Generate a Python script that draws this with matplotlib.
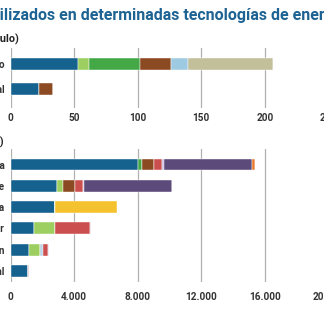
import matplotlib
matplotlib.use("Agg")
import matplotlib.pyplot as plt
import numpy as np

# vehiculos (kg por vehiculo)
car_labels = ["Coche eléctrico", "Coche convencional"]
car_minerals = ["Cobre", "Litio", "Níquel", "Manganeso", "Cobalto", "Grafito", "Tierras raras"]
car_values = {
    "Cobre":         [53.2, 22.3],
    "Litio":         [8.9, 0],
    "Níquel":        [39.9, 0],
    "Manganeso":     [24.5, 11.2],
    "Cobalto":       [13.3, 0],
    "Grafito":       [66.3, 0],
    "Tierras raras": [0.6, 0],
}

# generacion electrica (kg por MW)
power_labels = ["Eólica marina", "Eólica terrestre", "Solar fotovoltaica", "Nuclear", "Carbón", "Gas natural"]
power_minerals = ["Cobre", "Níquel (2)", "Níquel", "Manganeso", "Otros", "Cromo", "Molibdeno", "Zinc", "Tierras raras", "Silicio"]
power_values = {
    "Cobre":         [8000, 2900, 2822, 1473, 1150, 1100],
    "Níquel (2)":    [240, 0, 0, 0, 0, 0],
    "Níquel":        [0, 404, 0, 1297, 721, 16],
    "Manganeso":     [790, 780, 0, 60, 0, 0],
    "Otros":         [0, 0, 0, 0, 150, 0],
    "Cromo":         [525, 470, 0, 2190, 308, 48],
    "Molibdeno":     [109, 99, 0, 70, 66, 0],
    "Zinc":          [5500, 5500, 0, 0, 0, 0],
    "Tierras raras": [239, 14, 0, 0, 0, 0],
    "Silicio":       [0, 0, 3900, 0, 0, 0],
}

colors = {
    "Cobre": "#15628e",
    "Litio": "#9ccf5f",
    "Níquel (2)": "#45a847",
    "Níquel": "#9ccf5f",
    "Manganeso": "#8b4a22",
    "Cobalto": "#9ecae1",
    "Otros": "#b9d3e6",
    "Grafito": "#c2bf9b",
    "Tierras raras": "#e87b2b",
    "Cromo": "#cc4f4f",
    "Molibdeno": "#c9b9e2",
    "Zinc": "#5b4a7a",
    "Silicio": "#f5c22f",
}
car_colors = dict(colors, **{"Níquel": "#45a847"})

label_font = ["Roboto", "DejaVu Sans"]
title_blue = "#1d6393"
grid_gray = "#b0b0b0"
text_dark = "#333333"
W = 324.0
FS = 7.2

fig = plt.figure(figsize=(3.24, 3.24), dpi=100)


def stacked(ax, labels, minerals, values, cols, height):
    y = np.arange(len(labels))
    left = np.zeros(len(labels))
    for m in minerals:
        v = np.array(values[m], dtype=float)
        ax.barh(y, v, left=left, height=height, color=cols[m],
                edgecolor="white", linewidth=0.3, zorder=3)
        left += v
    ax.set_yticks(y)
    ax.set_yticklabels(labels, family=label_font, fontsize=FS, fontweight="bold", color=text_dark)
    for s in ax.spines.values():
        s.set_visible(False)
    ax.grid(axis="x", color=grid_gray, linewidth=0.9, zorder=0)
    ax.tick_params(axis="y", length=0, pad=4.3)


# panel superior
ax1 = fig.add_axes([10.5 / W, 1 - 108 / W, 318 / W, 60 / W])
stacked(ax1, car_labels, car_minerals, car_values, car_colors, 0.48)
ax1.set_xlim(0, 250)
ax1.set_ylim(1.76, -0.64)
ax1.set_xticks([0, 50, 100, 150, 200, 250])
ax1.set_xticklabels(["0", "50", "100", "150", "200", "250"], family=label_font, fontsize=FS,
                    fontweight="bold", color=text_dark)
ax1.tick_params(axis="x", length=0, pad=3.8)

# panel inferior
ax2 = fig.add_axes([10.5 / W, 1 - 282 / W, 318 / W, 133 / W])
stacked(ax2, power_labels, power_minerals, power_values, colors, 0.56)
ax2.set_xlim(0, 20000)
ax2.set_ylim(5.52, -0.73)
ticks = [0, 4000, 8000, 12000, 16000, 20000]
ax2.set_xticks(ticks)
ax2.set_xticklabels([f"{t:,}".replace(",", ".") for t in ticks], family=label_font, fontsize=FS,
                    fontweight="bold", color=text_dark)
ax2.tick_params(axis="x", length=0, pad=7.3)

# titulo y subtitulos
title = "Minerales utilizados en determinadas tecnologías de energía"
title_font = ["Roboto", "DejaVu Sans"]
TS = 11.5
r = fig.canvas.get_renderer()
probe = fig.text(0, 0, "Minerales ut", family=title_font, fontsize=TS, fontweight="bold")
shift = probe.get_window_extent(renderer=r).width / W
probe.remove()
fig.text(-0.5 / W - shift, 1 - 20 / W, title, family=title_font, fontsize=TS,
         fontweight="bold", color=title_blue, ha="left", va="baseline")
fig.text(19 / W, 1 - 39 / W, "(kg por vehículo)", family=label_font, fontsize=7.8,
         fontweight="bold", color="#222222", ha="right", va="center")
fig.text(4 / W, 1 - 142 / W, "(kg por MW)", family=label_font, fontsize=7.8,
         fontweight="bold", color="#222222", ha="right", va="center")

fig.savefig("out.png", dpi=100)
